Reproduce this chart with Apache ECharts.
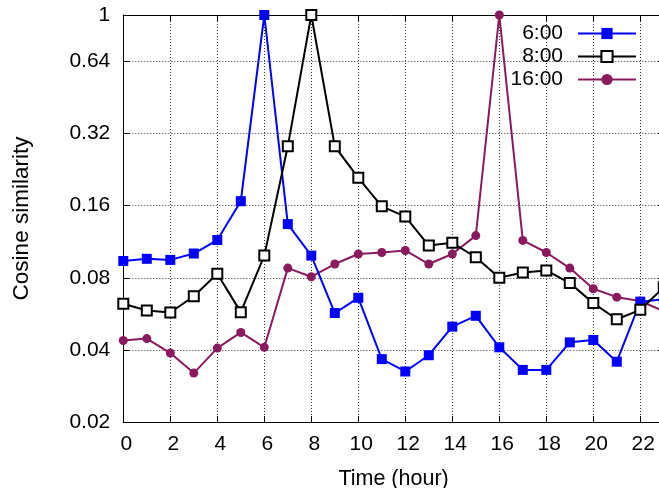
<!DOCTYPE html>
<html>
<head>
<meta charset="utf-8">
<script src="https://cdn.jsdelivr.net/npm/echarts@6/dist/echarts.min.js"></script>
<style>
  html, body { margin: 0; padding: 0; background: #fff; }
  #chart { width: 659px; height: 488px; }
</style>
</head>
<body>
<div id="chart"></div>
<script>
// Hours of the day (x values)
const hours = [0,1,2,3,4,5,6,7,8,9,10,11,12,13,14,15,16,17,18,19,20,21,22,23];

// Cosine similarity of each hour against the reference hour
const sim0600 = [0.094,0.096,0.095,0.101,0.115,0.167,1.0,0.134,0.099,0.057,0.066,0.0366,
                 0.0325,0.038,0.050,0.0555,0.041,0.033,0.033,0.043,0.044,0.0357,0.0636,0.065];
const sim0800 = [0.0623,0.0584,0.0573,0.067,0.0832,0.0575,0.099,0.283,1.0,0.283,0.209,0.159,
                 0.144,0.109,0.112,0.0974,0.080,0.0842,0.0858,0.076,0.0627,0.0537,0.0588,0.073];
const sim1600 = [0.0438,0.0446,0.0388,0.032,0.0407,0.0473,0.041,0.0878,0.0808,0.0913,0.1005,0.102,
                 0.104,0.0913,0.1005,0.12,1.0,0.1146,0.102,0.0878,0.072,0.0664,0.064,0.058];

const seriesNames = ['6:00', '8:00', '16:00'];
const yTicks = [0.02, 0.04, 0.08, 0.16, 0.32, 0.64, 1];
const xTicks = [0, 2, 4, 6, 8, 10, 12, 14, 16, 18, 20, 22];

const FONT = 'Liberation Sans';
const pairs = (ys) => hours.map((h, i) => [h, ys[i]]);
const gridDots = { show: true, lineStyle: { color: '#333', width: 1, type: [1, 2] } };
const tickStyle = { show: true, inside: true, length: 6, lineStyle: { color: '#000' } };
const lineAxis = { show: true, onZero: false, lineStyle: { color: '#000', width: 1 } };

const chart = echarts.init(document.getElementById('chart'), null, { renderer: 'canvas' });
chart.setOption({
  animation: false,
  backgroundColor: '#fff',
  textStyle: { fontFamily: FONT },
  grid: { left: 123.3, top: 15, width: 540.5, height: 407, containLabel: false, outerBoundsMode: 'none' },
  legend: {
    data: seriesNames,
    orient: 'vertical',
    align: 'right',
    right: 22,
    top: 23,
    padding: 0,
    itemWidth: 58,
    itemHeight: 14,
    itemGap: 2,
    textStyle: { fontFamily: FONT, fontSize: 21, color: '#000', padding: [0, 10, 0, 0] }
  },
  xAxis: [{
    type: 'value', min: 0, max: 23, position: 'bottom',
    name: 'Time (hour)', nameLocation: 'middle', nameGap: 46,
    nameTextStyle: { fontFamily: FONT, fontSize: 21.5, color: '#000' },
    axisLine: lineAxis,
    axisTick: Object.assign({ customValues: xTicks }, tickStyle),
    axisLabel: { fontFamily: FONT, fontSize: 21, color: '#000', margin: 12, padding: [0, 0, 0, 6],
                 customValues: xTicks },
    splitLine: gridDots
  }, {
    type: 'value', min: 0, max: 23, position: 'top',
    axisLine: lineAxis,
    axisTick: Object.assign({ customValues: xTicks }, tickStyle),
    axisLabel: { show: false },
    splitLine: { show: false }
  }],
  yAxis: [{
    type: 'log', logBase: 2, min: 0.02, max: 1, position: 'left',
    name: 'Cosine similarity', nameLocation: 'middle', nameGap: 90, nameRotate: 90,
    nameTextStyle: { fontFamily: FONT, fontSize: 22.5, color: '#000' },
    axisLine: lineAxis,
    axisTick: Object.assign({ customValues: yTicks }, tickStyle),
    axisLabel: { fontFamily: FONT, fontSize: 21, color: '#000', margin: 13, customValues: yTicks,
                 formatter: (v) => String(parseFloat(Number(v).toPrecision(6))) },
    splitLine: gridDots
  }, {
    type: 'log', logBase: 2, min: 0.02, max: 1, position: 'right',
    axisLine: lineAxis,
    axisTick: Object.assign({ customValues: yTicks }, tickStyle),
    axisLabel: { show: false },
    splitLine: { show: false }
  }],
  series: [{
    name: seriesNames[0], type: 'line', data: pairs(sim0600),
    symbol: 'rect', symbolSize: 10, color: '#0000ff',
    lineStyle: { color: '#0000ff', width: 2 },
    itemStyle: { color: '#0000ff' },
    z: 3
  }, {
    name: seriesNames[1], type: 'line', data: pairs(sim0800),
    symbol: 'rect', symbolSize: 10, color: '#000',
    lineStyle: { color: '#000', width: 2 },
    itemStyle: { color: '#fff', borderColor: '#000', borderWidth: 2 },
    z: 4
  }, {
    name: seriesNames[2], type: 'line', data: pairs(sim1600),
    symbol: 'circle', symbolSize: 9, color: '#8a1a5e',
    lineStyle: { color: '#8a1a5e', width: 2 },
    itemStyle: { color: '#8a1a5e' },
    z: 2
  }]
});
</script>
</body>
</html>
